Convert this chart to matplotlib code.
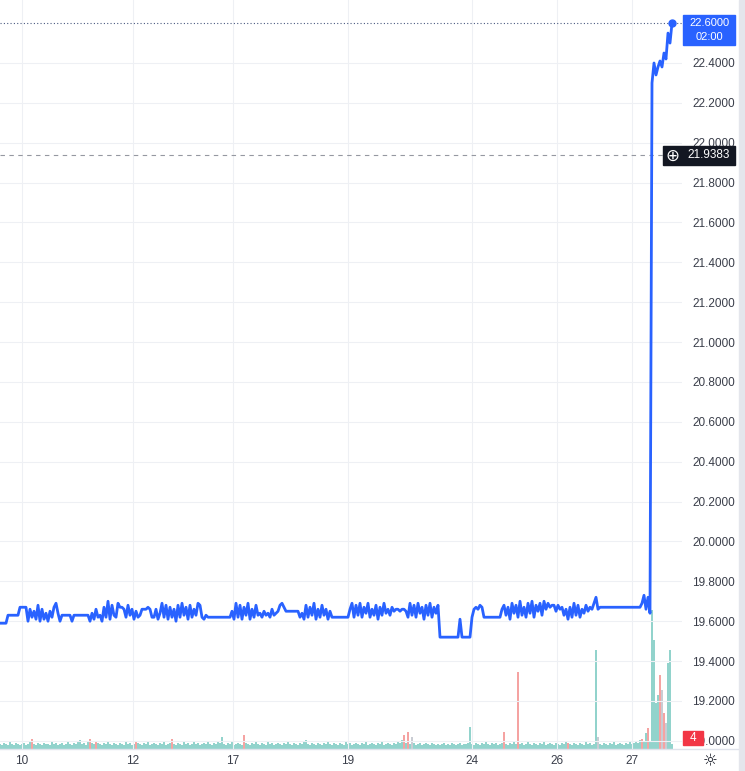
import numpy as np
import matplotlib
matplotlib.use("Agg")
import matplotlib.pyplot as plt
from matplotlib.patches import Rectangle
from matplotlib.lines import Line2D

W, H = 745, 771

# price per bar (one bar every ~2 px of the original chart)
price = (
    [19.59] * 4 + [19.63] * 6 + [19.67] * 4
    + [19.60, 19.66, 19.62, 19.65, 19.61, 19.68, 19.60, 19.66, 19.61, 19.64,
       19.60, 19.65, 19.62, 19.67, 19.69, 19.64, 19.60, 19.63]
    + [19.63, 19.63, 19.63, 19.63, 19.60, 19.63, 19.63, 19.63, 19.63, 19.63,
       19.63, 19.63, 19.63]
    + [19.60, 19.64, 19.61, 19.66, 19.62, 19.63, 19.60, 19.67, 19.62, 19.70,
       19.61, 19.68, 19.63]
    + [19.62, 19.69, 19.67, 19.67, 19.66]
    + [19.62, 19.68, 19.63, 19.66, 19.61, 19.65, 19.62]
    + [19.63, 19.66, 19.66, 19.66, 19.67, 19.66, 19.62, 19.62]
    + [19.66, 19.61, 19.64, 19.69, 19.62, 19.68, 19.61, 19.67, 19.62, 19.66]
    + [19.60, 19.68, 19.62, 19.69, 19.63, 19.67, 19.61, 19.68, 19.62, 19.66,
       19.63, 19.69, 19.68, 19.62, 19.61]
    + [19.63] + [19.62] * 12
    + [19.65, 19.61, 19.69, 19.62, 19.68, 19.61, 19.67, 19.63, 19.69, 19.61,
       19.66, 19.62, 19.68, 19.63]
    + [19.64, 19.62, 19.65, 19.63, 19.64, 19.62, 19.66, 19.63, 19.64, 19.65]
    + [19.68, 19.69, 19.67] + [19.65] * 7
    + [19.62, 19.64, 19.61, 19.68, 19.62, 19.67, 19.63, 19.69, 19.61, 19.66,
       19.62, 19.68, 19.63, 19.66, 19.61, 19.65, 19.62, 19.62]
    + [19.62] * 7
    + [19.66, 19.69, 19.62, 19.68, 19.63, 19.69, 19.62, 19.67, 19.64, 19.69,
       19.62, 19.66, 19.63, 19.68, 19.61, 19.67, 19.63, 19.69, 19.64, 19.66,
       19.63, 19.67, 19.65]
    + [19.66, 19.66, 19.65, 19.66, 19.66, 19.65]
    + [19.62, 19.69, 19.63, 19.68, 19.62, 19.69, 19.64, 19.67, 19.61, 19.68,
       19.63, 19.69, 19.62, 19.67, 19.64, 19.68]
    + [19.52] * 10 + [19.61] + [19.52] * 5
    + [19.62, 19.66, 19.67, 19.66, 19.68, 19.67, 19.62] + [19.62] * 7
    + [19.62, 19.66, 19.68, 19.63, 19.67, 19.61, 19.69, 19.64, 19.68, 19.62,
       19.70, 19.63, 19.67, 19.62, 19.69, 19.64, 19.70, 19.62, 19.68, 19.65,
       19.69, 19.63, 19.70, 19.66, 19.69, 19.67, 19.68, 19.68, 19.65, 19.68,
       19.66, 19.67]
    + [19.63, 19.66, 19.61, 19.67, 19.62, 19.69, 19.63, 19.68, 19.62, 19.66,
       19.64, 19.68, 19.65, 19.67, 19.66, 19.69, 19.72, 19.66]
    + [19.67] * 21
    + [19.69, 19.73, 19.66, 19.72, 19.64]
    + [22.30, 22.40, 22.34, 22.38, 22.41, 22.38, 22.45, 22.42, 22.55, 22.50, 22.60]
)

volume = [
    5, 4, 6, 5, 4, 7, 5, 4, 6, 5,
    4, 5, 6, 4, 5, 7, 10, 5, 4, 6,
    5, 4, 6, 5, 5, 4, 7, 5, 6, 4,
    5, 6, 4, 5, 7, 5, 4, 6, 5, 8,
    9, 5, 6, 4, 7, 10, 6, 5, 8, 6,
    5, 4, 6, 5, 7, 5, 4, 6, 5, 4,
    6, 5, 4, 7, 5, 6, 4, 5, 8, 6,
    5, 4, 6, 5, 7, 4, 5, 6, 5, 4,
    6, 5, 7, 4, 5, 6, 10, 5, 4, 6,
    5, 4, 7, 5, 6, 4, 5, 7, 5, 6,
    4, 5, 6, 5, 7, 5, 4, 6, 5, 8,
    6, 12, 5, 4, 6, 5, 7, 4, 5, 6,
    5, 4, 14, 6, 5, 4, 6, 5, 7, 5,
    4, 6, 5, 4, 7, 5, 6, 4, 5, 6,
    5, 4, 6, 5, 7, 5, 4, 6, 5, 4,
    6, 5, 7, 9, 5, 4, 6, 5, 4, 6,
    5, 4, 6, 5, 7, 5, 4, 6, 5, 4,
    6, 5, 4, 7, 5, 6, 4, 5, 6, 5,
    4, 6, 5, 7, 4, 5, 6, 5, 4, 6,
    5, 7, 4, 5, 6, 5, 4, 6, 5, 8,
    6, 9, 14, 6, 17, 5, 12, 6, 4, 5,
    6, 4, 5, 6, 5, 4, 6, 5, 4, 5,
    4, 5, 6, 4, 5, 4, 6, 5, 4, 5,
    6, 4, 5, 5, 6, 22, 5, 4, 6, 5,
    4, 6, 5, 7, 5, 4, 6, 5, 6, 4,
    5, 6, 17, 5, 4, 6, 5, 7, 5, 77,
    5, 6, 4, 5, 7, 5, 4, 6, 5, 4,
    6, 5, 7, 4, 5, 6, 5, 4, 6, 5,
    4, 6, 5, 7, 6, 5, 4, 6, 5, 4,
    6, 5, 4, 7, 5, 6, 4, 5, 99, 12,
    5, 4, 6, 5, 4, 6, 5, 7, 4, 5,
    6, 5, 4, 6, 5, 7, 5, 6, 8, 6,
    9, 10, 7, 16, 21, 8, 139, 109, 46, 54,
    74, 59, 36, 26, 86, 99, 5,
]
red_bars = [16, 45, 48, 68, 86, 122, 202, 204, 252, 259, 284, 321, 324, 330, 332]
grey_bars = [206, 299, 331, 333]

tick_pos = [11, 66.5, 116.5, 174, 236, 278.5, 316]
tick_labels = ["10", "12", "17", "19", "24", "26", "27"]
# 22.6 is covered by the last-price badge
price_ticks = np.round(np.arange(19.0, 22.41, 0.2), 1)

last_price = 22.6
mark_price = 21.9383

font = "Liberation Sans"
txt = "#3a3e4a"

fig = plt.figure(figsize=(W / 100, H / 100), dpi=100)
ax_v = fig.add_axes([0, 22 / H, 682 / W, 749 / H])
ax = fig.add_axes([0, 22 / H, 682 / W, 749 / H], sharex=ax_v)
ax.patch.set_visible(False)

# volume
vcol = []
for i in range(len(volume)):
    if i in red_bars:
        vcol.append("#f5a3a2")
    elif i in grey_bars:
        vcol.append("#c9ccd3")
    else:
        vcol.append("#92d3cc")
ax_v.bar(np.arange(len(volume)), volume, width=0.6, color=vcol, linewidth=0)
ax_v.set_ylim(0, 749)
ax_v.axis("off")

# price
x = np.arange(len(price))
ax.plot(x, price, color="#2962ff", lw=2.0, solid_joinstyle="round", zorder=3)
ax.plot(x[-1], price[-1], "o", color="#2962ff", ms=5, zorder=4)

ax.set_xlim(0, 341)
ax.set_ylim(18.959, 22.716)
ax.set_yticks(price_ticks)
ax.set_yticklabels(["%.4f" % v for v in price_ticks])
ax.yaxis.tick_right()
ax.set_xticks(tick_pos)
ax.set_xticklabels(tick_labels)
ax.tick_params(axis="y", length=0, pad=7.5, labelsize=8.5, labelcolor=txt)
ax.tick_params(axis="x", length=0, pad=4, labelsize=8.5, labelcolor=txt)
for lab in ax.get_xticklabels() + ax.get_yticklabels():
    lab.set_fontfamily(font)
ax.grid(True, color="#eef0f4", lw=0.8, zorder=0)
for s in ax.spines.values():
    s.set_visible(False)

ax.axhline(last_price, color="#4a5a80", lw=0.8, ls=(0, (1, 2)), zorder=2)
ax.axhline(mark_price, xmax=663 / 682, color="#9598a1", lw=0.8, ls=(0, (4, 4)), zorder=2)


def fx(px):
    return px / W


def fy(py):
    return 1 - py / H


# bottom axis line and right strip
fig.add_artist(Line2D([0, fx(740)], [fy(749), fy(749)], color="#e0e3eb", lw=1))
fig.add_artist(Rectangle((fx(739), 0), fx(6), 1, color="#e4e6ec", zorder=5))

# last price label
fig.add_artist(Rectangle((fx(683), fy(45)), fx(52), 30 / H, color="#2962ff", zorder=6))
fig.text(fx(709), fy(23), "22.6000", color="white", ha="center", va="center",
         fontsize=8, family=font, zorder=7)
fig.text(fx(709), fy(37), "02:00", color="white", ha="center", va="center",
         fontsize=8, family=font, zorder=7)

# crosshair price label
fig.add_artist(Rectangle((fx(663), fy(165)), fx(72), 19 / H, color="#131722", zorder=6))
fig.text(fx(709), fy(155.5), "21.9383", color="white", ha="center", va="center",
         fontsize=8.5, family=font, zorder=7)
fig.text(fx(672), fy(155.5), "\u2295", color="white", ha="center", va="center",
         fontsize=12, family="DejaVu Sans", zorder=7)

# volume badge
fig.add_artist(Rectangle((fx(683), fy(745)), fx(20), 14 / H, color="#f23645", zorder=6))
fig.text(fx(693), fy(738), "4", color="white", ha="center", va="center",
         fontsize=8.5, family=font, zorder=7)

# settings icon
fig.text(fx(710), fy(761), "\u263c", color="#131722", ha="center", va="center",
         fontsize=12, family="DejaVu Sans")

fig.savefig("out.png", dpi=100, facecolor="white")
